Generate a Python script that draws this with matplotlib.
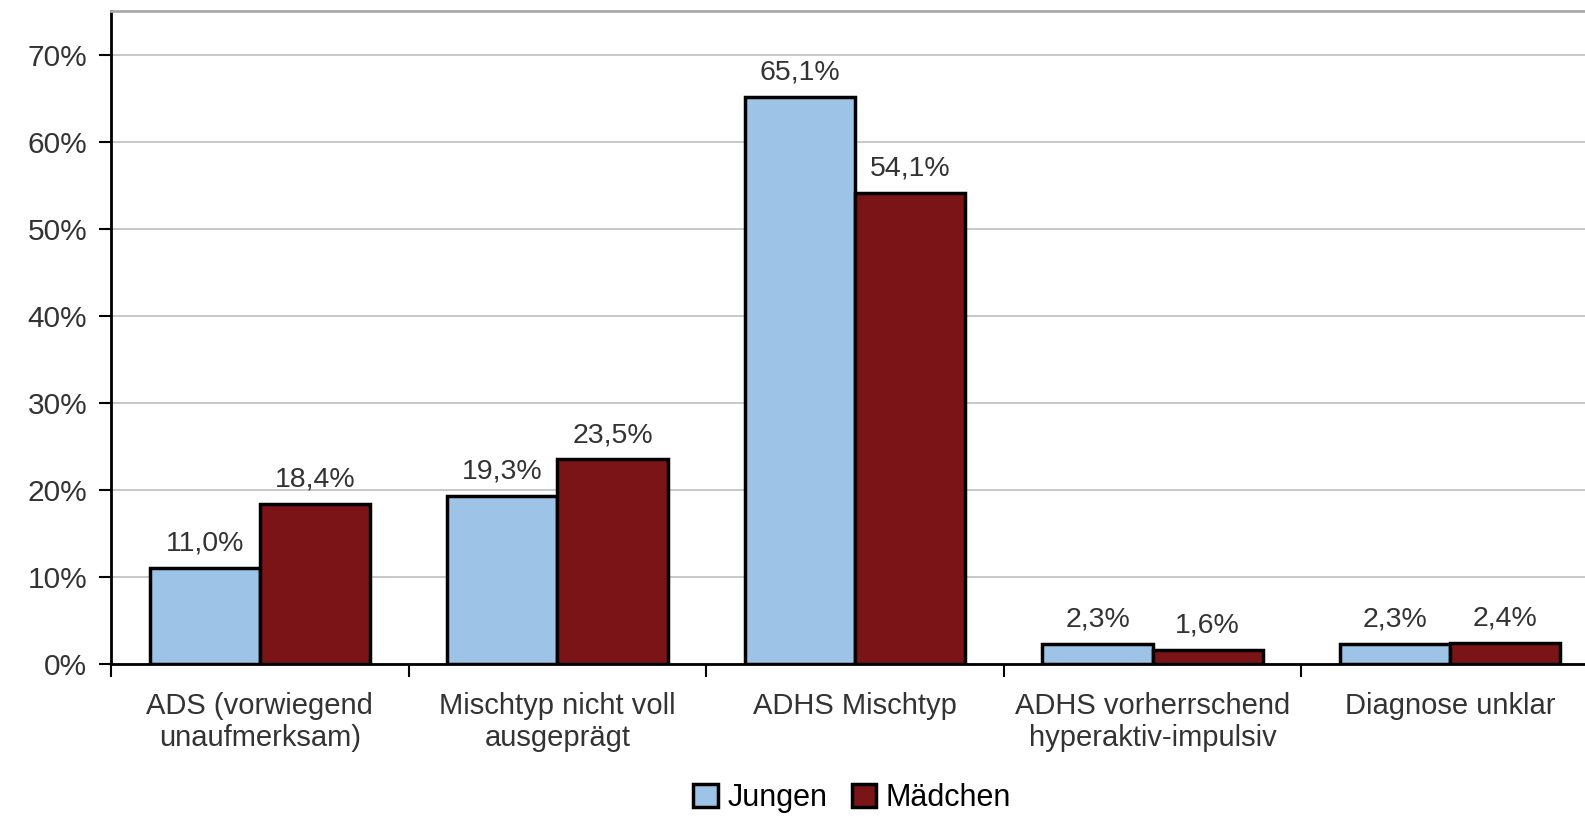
import numpy as np
import matplotlib.pyplot as plt

plt.rcParams['font.family'] = ['Liberation Sans', 'DejaVu Sans']

categories = ["ADS (vorwiegend\nunaufmerksam)", "Mischtyp nicht voll\nausgeprägt",
              "ADHS Mischtyp", "ADHS vorherrschend\nhyperaktiv-impulsiv", "Diagnose unklar"]
jungen = [11.0, 19.3, 65.1, 2.3, 2.3]
maedchen = [18.4, 23.5, 54.1, 1.6, 2.4]
yticks = [0, 10, 20, 30, 40, 50, 60, 70]

fig = plt.figure(figsize=(15.85, 8.18), dpi=100)
ax = fig.add_axes([111 / 1585, 1 - 664 / 818, (1599 - 111) / 1585, (664 - 11) / 818])

x = np.arange(len(categories))
w = 0.37
b1 = ax.bar(x - w / 2, jungen, w, color="#9DC3E6", edgecolor="black", linewidth=2.5,
            label="Jungen", zorder=3)
b2 = ax.bar(x + w / 2, maedchen, w, color="#7B1416", edgecolor="black", linewidth=2.5,
            label="Mädchen", zorder=3)

def fmt(v):
    return ("%.1f%%" % v).replace(".", ",")

for bars, vals in [(b1, jungen), (b2, maedchen)]:
    for r, v in zip(bars, vals):
        ax.text(r.get_x() + r.get_width() / 2, v + 1.3, fmt(v), ha="center", va="bottom",
                fontsize=20.5, color="#333333")

ax.set_xlim(-0.5, len(categories) - 0.5)
ax.set_ylim(0, 75)
ax.set_yticks(yticks)
ax.set_yticklabels(["%d%%" % t for t in yticks], fontsize=21.5, color="#333333")
ax.yaxis.grid(True, color="#c4c4c4", linewidth=1.3, zorder=0)

ax.set_xticks(x)
ax.set_xticklabels(categories, fontsize=21, color="#333333")
ax.set_xticks(np.arange(len(categories) + 1) - 0.5, minor=True)
ax.tick_params(axis="x", which="major", length=0, pad=20)
ax.tick_params(axis="x", which="minor", length=9, width=1.5, direction="out")
ax.tick_params(axis="y", length=9, width=1.5, direction="out", pad=8)

ax.spines["left"].set_linewidth(2)
ax.spines["bottom"].set_linewidth(2)
ax.spines["right"].set_visible(False)
ax.spines["top"].set_color("#aaaaaa")
ax.spines["top"].set_linewidth(2)

fig.legend(handles=[b1, b2], labels=["Jungen", "Mädchen"], loc="center",
           bbox_to_anchor=(852 / 1585, 1 - 798 / 818), ncol=2, frameon=False,
           fontsize=22, handlelength=0.8, handleheight=0.8, handletextpad=0.3,
           columnspacing=0.8)

fig.savefig("out.png", dpi=100)
